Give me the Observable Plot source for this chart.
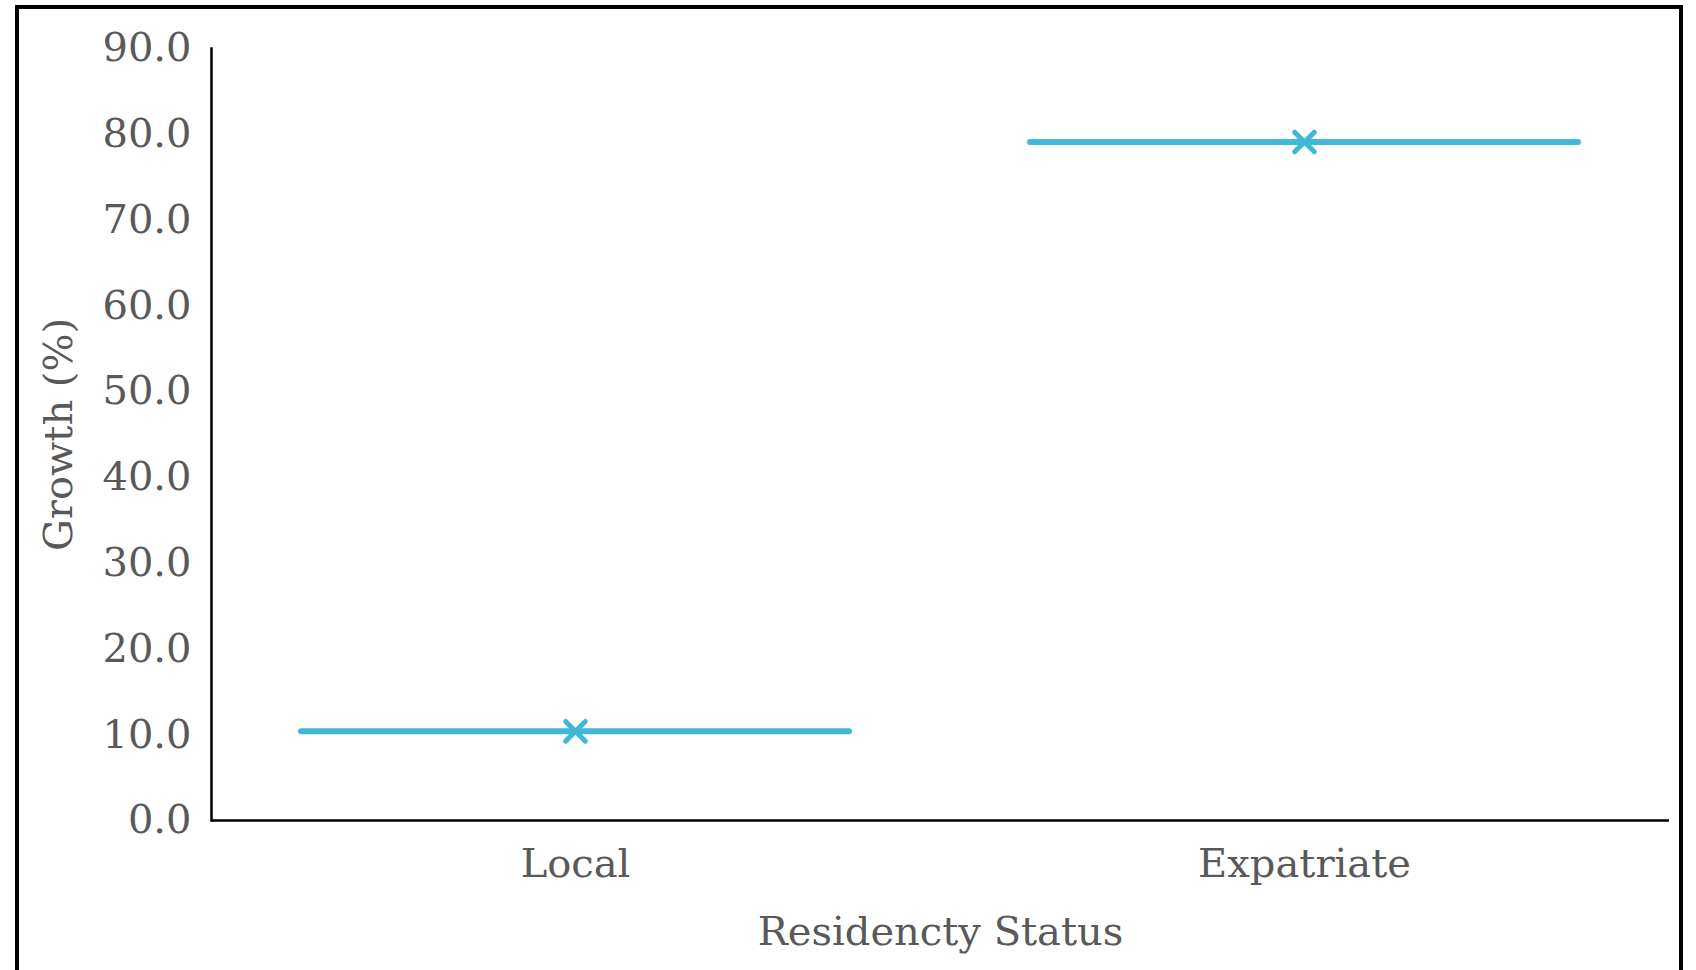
<!DOCTYPE html>
<html>
<head>
<meta charset="utf-8">
<script src="https://cdn.jsdelivr.net/npm/d3@7"></script>
<script src="https://cdn.jsdelivr.net/npm/@observablehq/plot@0.6"></script>
<style>
  html, body { margin: 0; padding: 0; background: #fff; overflow: hidden; }
  #wrap { position: relative; width: 1696px; height: 970px; }
  #border { position: absolute; left: 15px; top: 5px; width: 1668px; height: 1000px; border: 4px solid #000; box-sizing: border-box; }
  #chart { position: absolute; left: 0; top: 0; }
</style>
</head>
<body>
<div id="wrap"><div id="border"></div><div id="chart"></div></div>
<script>
const categories = ["Local", "Expatriate"];
const growth = [10.4, 79.1];
const yTicks = [0, 10, 20, 30, 40, 50, 60, 70, 80, 90];
const xTitle = "Residencty Status";
const yTitle = "Growth (%)";

const data = categories.map((c, i) => ({ status: c, growth: growth[i] }));
const color = "#41B8D5";
const font = "DejaVu Serif";

const chart = Plot.plot({
  width: 1696,
  height: 970,
  marginLeft: 211,
  marginRight: 27,
  marginTop: 48,
  marginBottom: 150,
  style: { fontFamily: font, fontSize: "40px", color: "#595959", background: "transparent" },
  x: { type: "band", domain: categories, paddingInner: 0.248, paddingOuter: 0.124, label: null },
  y: { domain: [0, 90], label: null },
  marks: [
    Plot.axisY({ ticks: yTicks, tickFormat: d => d.toFixed(1), tickSize: 0, tickPadding: 20, fontSize: 40, fill: "#595959", label: null }),
    Plot.axisX({ tickSize: 0, tickPadding: 28, fontSize: 40, fill: "#595959", label: null }),
    Plot.frame({ anchor: "left", stroke: "#000", strokeWidth: 2.5 }),
    Plot.ruleY([0], { stroke: "#000", strokeWidth: 2.5 }),
    Plot.tickY(data, { x: "status", y: "growth", stroke: color, strokeWidth: 6, strokeLinecap: "round" }),
    Plot.dot(data, { x: "status", y: "growth", symbol: "times", r: 9, stroke: color, strokeWidth: 5, strokeLinecap: "round" }),
    Plot.text([xTitle], { frameAnchor: "bottom", dy: 112, text: d => d, fontSize: 40, fill: "#595959", lineAnchor: "middle", textAnchor: "middle" }),
    Plot.text([yTitle], { frameAnchor: "left", dx: -152, rotate: -90, text: d => d, fontSize: 40, fill: "#595959", lineAnchor: "middle", textAnchor: "middle" })
  ]
});
document.getElementById("chart").appendChild(chart);
</script>
</body>
</html>
